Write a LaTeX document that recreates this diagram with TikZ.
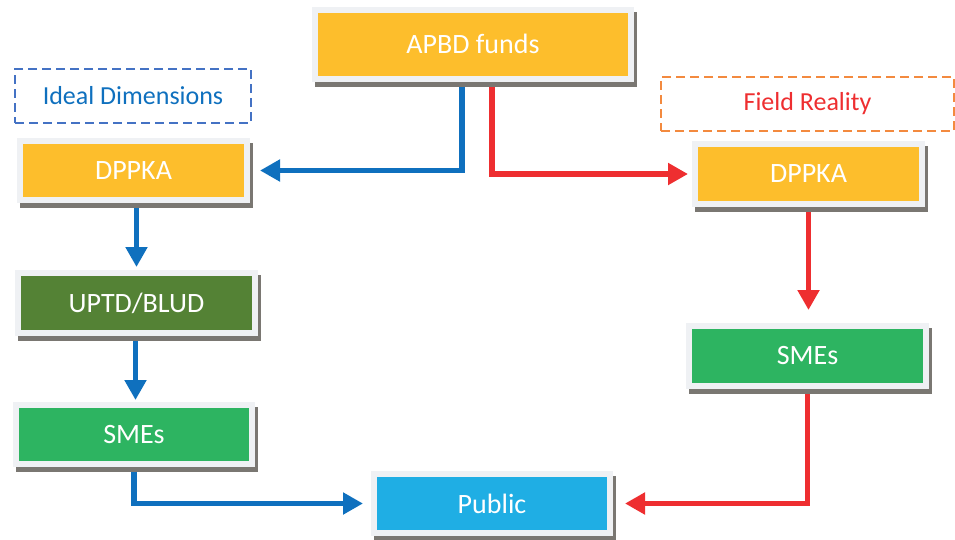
\documentclass[tikz,border=0pt]{standalone}
\usepackage{fontspec}
\setmainfont{Carlito}
\usetikzlibrary{arrows.meta,shadows,backgrounds}

\definecolor{fundyellow}{HTML}{FDBE2C}
\definecolor{bludgreen}{HTML}{548235}
\definecolor{smegreen}{HTML}{2DB461}
\definecolor{publicblue}{HTML}{1FAEE4}
\definecolor{framegray}{HTML}{EFF1F4}
\definecolor{shadowgray}{HTML}{7A7772}
\definecolor{idealblue}{HTML}{0F70BE}
\definecolor{dashblue}{HTML}{4472C4}
\definecolor{realred}{HTML}{EE2E30}
\definecolor{dashorange}{HTML}{F38A3F}

\begin{document}
\begin{tikzpicture}[x=1pt,y=-1pt,
    flowbox/.style={draw=framegray, line width=6pt, outer sep=0pt, inner sep=0pt,
      text=white, font=\fontsize{28}{32}\selectfont,
      general shadow={fill=shadowgray, draw=shadowgray, line width=6pt,
        shadow xshift=3pt, shadow yshift=-5pt}},
    tagbox/.style={draw, line width=2.5pt, dash pattern=on 9pt off 5pt,
      outer sep=0pt, inner sep=0pt, minimum height=54pt,
      font=\fontsize{26}{30}\selectfont},
    ideal/.style={draw=idealblue, line width=5.5pt,
      -{Triangle[length=20pt,width=21pt]}},
    real/.style={draw=realred, line width=5.5pt,
      -{Triangle[length=20pt,width=21pt]}}]

    \useasboundingbox (0,0) rectangle (955,539);

    % Source of the funds
    \node[flowbox, fill=fundyellow, minimum width=316pt, minimum height=69pt]
      (apbd) at (473,44) {APBD funds};

    % Headings of the two branches
    \node[tagbox, draw=dashblue, text=idealblue, minimum width=236pt]
      (ideal) at (133,96) {Ideal Dimensions};
    \node[tagbox, draw=dashorange, text=realred, minimum width=293pt]
      (field) at (807.5,104) {Field Reality};

    % Left branch
    \node[flowbox, fill=fundyellow, minimum width=227pt, minimum height=59pt]
      (dppkaL) at (133.5,170.5) {DPPKA};
    \node[flowbox, fill=bludgreen, minimum width=237pt, minimum height=60pt]
      (uptd) at (136.5,303) {UPTD/BLUD};
    \node[flowbox, fill=smegreen, minimum width=236pt, minimum height=59pt]
      (smesL) at (134,434.5) {SMEs};

    % Right branch
    \node[flowbox, fill=fundyellow, minimum width=227pt, minimum height=60pt]
      (dppkaR) at (808.5,174) {DPPKA};
    \node[flowbox, fill=smegreen, minimum width=237pt, minimum height=60pt]
      (smesR) at (807.5,356) {SMEs};

    % Receiver
    \node[flowbox, fill=publicblue, minimum width=236pt, minimum height=59pt]
      (public) at (492,503.5) {Public};

    % Arrows
    \begin{scope}[on background layer]
      \draw[ideal, shorten >=13pt] ([xshift=-11pt]apbd.south) |- (dppkaL.east);
      \draw[ideal, shorten >=6pt] ([xshift=3pt]dppkaL.south) -- ([xshift=3pt]dppkaL.south |- uptd.north);
      \draw[ideal, shorten >=5pt] ([xshift=-1pt]uptd.south) -- ([xshift=-1pt]uptd.south |- smesL.north);
      \draw[ideal, shorten >=11pt] (smesL.south) |- (public.west);

      \draw[real, shorten >=7pt] ([xshift=19pt]apbd.south) |- (dppkaR.west);
      \draw[real, shorten >=16pt] (dppkaR.south) -- (dppkaR.south |- smesR.north);
      \draw[real, shorten >=15pt] (smesR.south) |- (public.east);
    \end{scope}
\end{tikzpicture}
\end{document}
